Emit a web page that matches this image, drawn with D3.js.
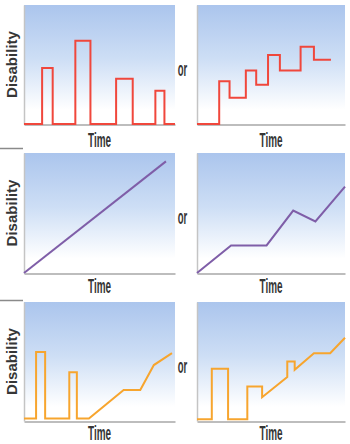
<!DOCTYPE html>
<html><head><meta charset="utf-8">
<script src="https://cdn.jsdelivr.net/npm/d3@7"></script>
<style>html,body{margin:0;padding:0;background:#fff;} svg{display:block;}</style>
</head><body>
<svg id="c" width="350" height="444"></svg>
<script>
// ---- data (arbitrary 0-100 units for time and disability) ----
const xLabel = "Time";
const yLabel = "Disability";
const orLabel = "or";

// row 1: recurrent episodes (step shapes)
const relapseX = [0, 12, 19, 34, 44, 61, 72, 87, 93, 100];
const relapseY = [0, 47, 0, 70, 0, 38, 0, 28, 0, 0];
const stepX = [0, 15, 22, 33, 40, 48, 56, 70, 79, 90.5];
const stepY = [0, 36, 22, 45, 33, 58, 45, 65, 54, 54];

// row 2: progressive
const progX = [0, 94];
const progY = [0, 93];
const progStepX = [0, 23, 47, 65, 80, 100];
const progStepY = [0, 23, 23, 52, 43, 72];

// row 3: relapses then progression
const mixX = [0, 8, 8, 14, 14, 30, 30, 35, 35, 43, 66, 77, 86, 98];
const mixY = [2, 2, 58, 58, 2, 2, 41, 41, 2, 2, 26, 26, 47, 57];
const mix2X = [0, 10, 10, 21, 21, 34, 34, 44, 44, 61, 61, 66, 66, 79, 90, 100];
const mix2Y = [1.5, 1.5, 44, 44, 1.5, 1.5, 29, 29, 20, 37, 50, 50, 43, 57, 57, 70];

const colRed = "#f0473c", colPurple = "#7f5ea8", colOrange = "#f7a52e";

const panels = [
  {row: 0, col: 0, xs: relapseX, ys: relapseY, color: colRed, curve: d3.curveStepAfter},
  {row: 0, col: 1, xs: stepX, ys: stepY, color: colRed, curve: d3.curveStepAfter},
  {row: 1, col: 0, xs: progX, ys: progY, color: colPurple, curve: d3.curveLinear},
  {row: 1, col: 1, xs: progStepX, ys: progStepY, color: colPurple, curve: d3.curveLinear},
  {row: 2, col: 0, xs: mixX, ys: mixY, color: colOrange, curve: d3.curveLinear},
  {row: 2, col: 1, xs: mix2X, ys: mix2Y, color: colOrange, curve: d3.curveLinear}
];

// ---- layout ----
const rowTop = [5, 153, 302], rowBottom = [124, 273, 421];
const timeBase = [146.5, 293, 439.5];
const colLeft = [24, 197], colRight = [175, 345];

const svg = d3.select("#c");
const defs = svg.append("defs");
const grad = defs.append("linearGradient").attr("id", "bg")
  .attr("x1", 0).attr("y1", 0).attr("x2", 0).attr("y2", 1);
grad.append("stop").attr("offset", "0%").attr("stop-color", "#abc5ed");
grad.append("stop").attr("offset", "45%").attr("stop-color", "#cddef5");
grad.append("stop").attr("offset", "88%").attr("stop-color", "#ffffff");
grad.append("stop").attr("offset", "100%").attr("stop-color", "#ffffff");

const font = "'Liberation Sans', Arial, sans-serif";
const textCol = "#363636";

panels.forEach(p => {
  const x0 = colLeft[p.col], x1 = colRight[p.col];
  const y0 = rowTop[p.row], y1 = rowBottom[p.row];
  const x = d3.scaleLinear().domain([0, 100]).range([x0, x1]);
  const y = d3.scaleLinear().domain([0, 100]).range([y1, y0]);
  const g = svg.append("g");
  g.append("rect").attr("x", x0).attr("y", y0).attr("width", x1 - x0).attr("height", y1 - y0)
    .attr("fill", "url(#bg)");
  // axes (no ticks)
  const ax = g.append("g").attr("transform", `translate(0,${y1 + 0.5})`)
    .call(d3.axisBottom(x).ticks(0).tickSize(0).tickSizeOuter(0));
  ax.select(".domain").attr("stroke", "#bdbdbd").attr("stroke-width", 2);
  const ay = g.append("g").attr("transform", `translate(${x0},0)`)
    .call(d3.axisLeft(y).ticks(0).tickSize(0).tickSizeOuter(0));
  ay.select(".domain").attr("stroke", "#c4c4c4").attr("stroke-width", 1.5);
  g.selectAll(".tick").remove();

  const pts = p.xs.map((v, i) => [v, p.ys[i]]);
  const line = d3.line().x(d => x(d[0])).y(d => y(d[1])).curve(p.curve);
  g.append("path").attr("d", line(pts)).attr("fill", "none")
    .attr("stroke", p.color).attr("stroke-width", 2).attr("stroke-linejoin", "miter");

  // Time label
  g.append("text").attr("x", (x0 + x1) / 2).attr("y", timeBase[p.row])
    .attr("text-anchor", "middle").attr("font-family", font).attr("font-weight", "bold")
    .attr("font-size", 21).attr("textLength", 23).attr("lengthAdjust", "spacingAndGlyphs")
    .attr("fill", textCol).text(xLabel);

  const mid = (y0 + y1) / 2;
  if (p.col === 0) {
    g.append("text").attr("transform", `translate(16.5,${mid}) rotate(-90)`)
      .attr("text-anchor", "middle").attr("font-family", font).attr("font-weight", "bold")
      .attr("font-size", 14.5).attr("textLength", 67).attr("lengthAdjust", "spacingAndGlyphs")
      .attr("fill", textCol).text(yLabel);
  } else {
    g.append("text").attr("x", 182.5).attr("y", mid + 11)
      .attr("text-anchor", "middle").attr("font-family", font).attr("font-weight", "bold")
      .attr("font-size", 21).attr("textLength", 9.5).attr("lengthAdjust", "spacingAndGlyphs")
      .attr("fill", textCol).text(orLabel);
  }
});

// separator lines at the left margin
[148.5, 300.5].forEach(yy => {
  svg.append("line").attr("x1", 0).attr("x2", 23).attr("y1", yy).attr("y2", yy)
    .attr("stroke", "#8a8a8a").attr("stroke-width", 1.5);
});
</script>
</body></html>
